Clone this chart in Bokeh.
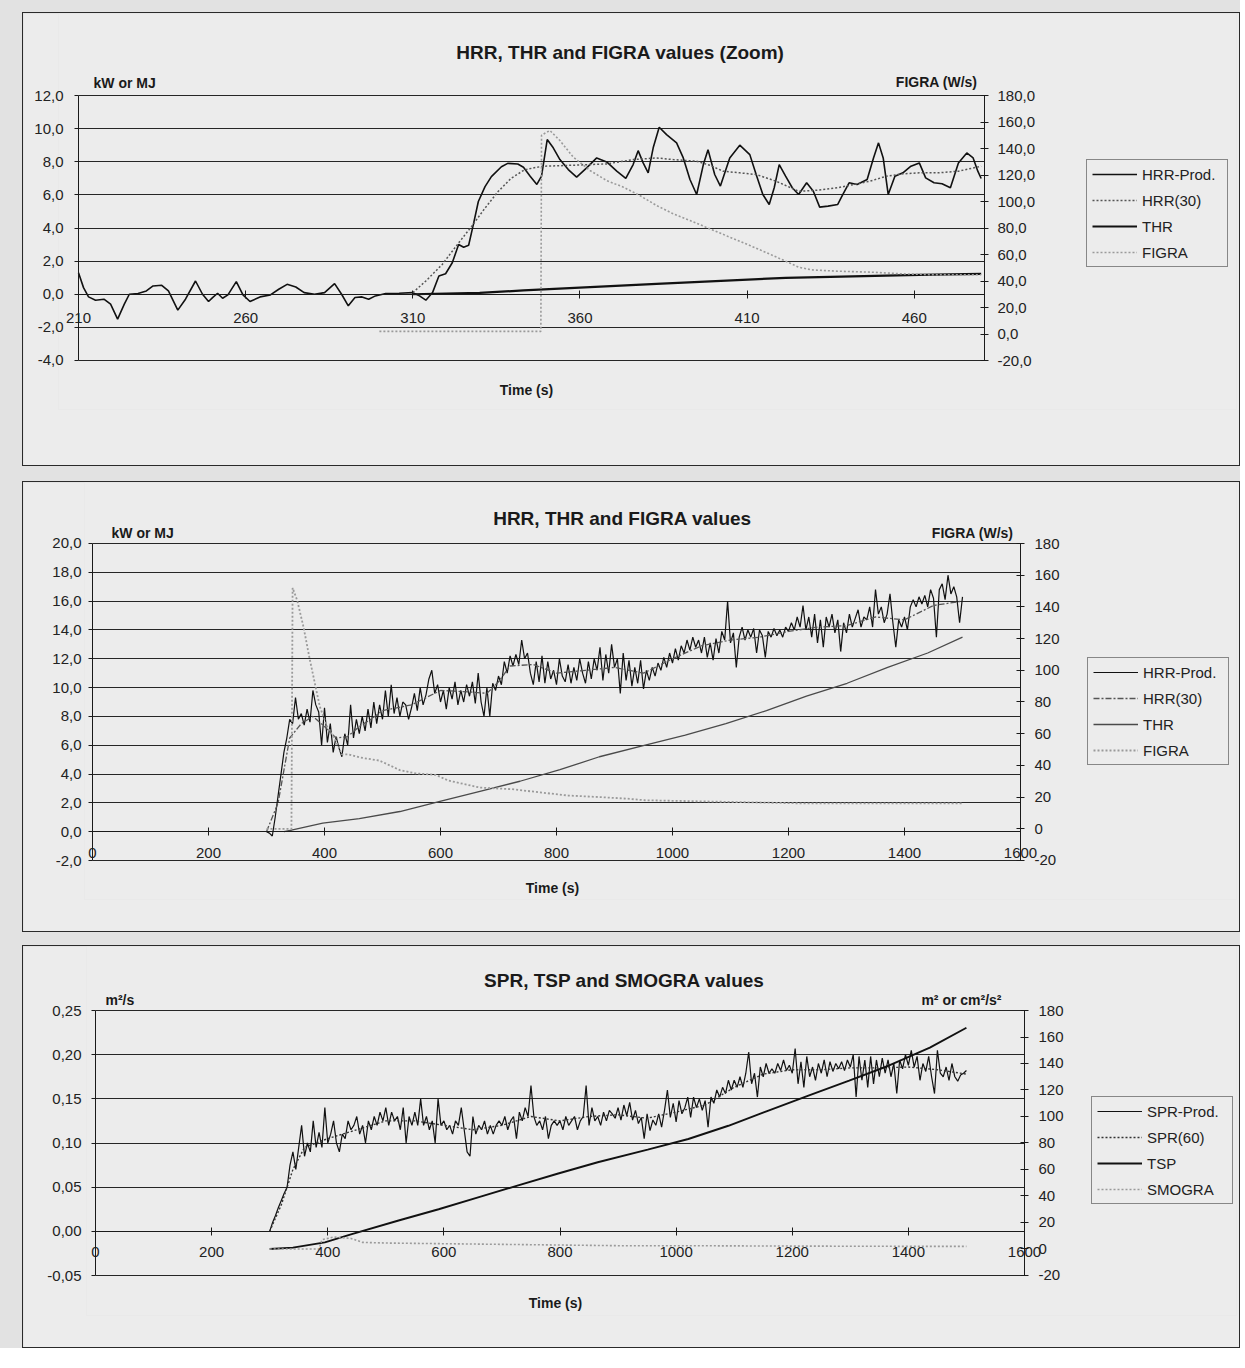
from bokeh.plotting import figure
from bokeh.models import (Range1d, LinearAxis, FixedTicker, Label, Legend, LegendItem,
                          CustomJSTickFormatter)
from bokeh.layouts import column
from bokeh.embed import file_html
from bokeh.resources import INLINE

FONT = "Liberation Sans"
BG = "#ececec"
PAGE_BG = "#e2e2e2"
INK = "#1a1a1a"
GRID = "#262626"

# ---------------- Chart 1: HRR, THR and FIGRA values (Zoom) ----------------
z_x_ticks = [210, 260, 310, 360, 410, 460]
z_left_ticks = [-4, -2, 0, 2, 4, 6, 8, 10, 12]
z_right_ticks = [-20, 0, 20, 40, 60, 80, 100, 120, 140, 160, 180]

z_hrr_t = [210.0, 211.5, 213.0, 215.1, 217.6, 219.6, 221.7, 223.7, 225.2, 227.8,
           230.3, 232.3, 234.9, 236.9, 239.7, 242.0, 245.0, 247.1, 248.9, 250.1,
           251.6, 253.1, 254.7, 257.2, 259.2, 261.3, 264.3, 267.4, 269.9, 272.4,
           275.0, 277.5, 280.6, 283.6, 286.6, 288.7, 290.7, 292.7, 294.8, 296.8,
           298.8, 301.9, 305.9, 310.0, 312.0, 313.9, 315.9, 317.8, 319.8, 321.8,
           323.7, 325.2, 326.7, 328.1, 329.6, 331.6, 333.5, 336.5, 338.4, 341.4,
           343.1, 345.1, 347.1, 348.5, 350.2, 352.0, 354.0, 356.5, 359.0, 362.0,
           365.0, 368.0, 371.0, 373.7, 375.9, 377.4, 378.9, 380.4, 381.9, 383.7,
           385.9, 388.9, 390.9, 392.9, 394.9, 396.9, 398.3, 400.3, 402.0, 404.8,
           407.8, 410.8, 412.7, 414.7, 416.6, 418.1, 419.6, 421.5, 423.5, 425.4,
           427.8, 429.8, 431.7, 434.2, 437.1, 438.6, 440.5, 442.9, 445.9, 447.8,
           449.3, 450.7, 452.2, 454.2, 456.6, 459.0, 461.5, 463.4, 465.9, 468.3,
           470.8, 473.2, 475.7, 477.6, 479.0, 480.0]
z_hrr_v = [1.3, 0.4, -0.16, -0.36, -0.3, -0.6, -1.5, -0.6, 0.0, 0.04,
           0.2, 0.5, 0.54, 0.2, -0.96, -0.3, 0.8, 0.0, -0.44, -0.2,
           0.06, -0.24, -0.04, 0.76, -0.04, -0.44, -0.16, -0.04, 0.3, 0.6,
           0.44, 0.1, 0.0, 0.1, 0.64, 0.0, -0.7, -0.2, -0.16, -0.3,
           -0.1, 0.04, 0.06, 0.1, -0.1, -0.36, 0.1, 1.1, 1.24, 1.9,
           3.0, 2.84, 2.96, 4.2, 5.6, 6.5, 7.1, 7.7, 7.9, 7.86,
           7.67, 7.13, 6.63, 7.13, 9.34, 8.84, 8.13, 7.53, 7.07, 7.63,
           8.23, 7.99, 7.43, 6.99, 7.83, 8.67, 7.93, 7.33, 8.84, 10.08,
           9.64, 9.14, 8.23, 6.93, 6.02, 7.83, 8.73, 7.23, 6.53, 8.23,
           9.0, 8.43, 7.23, 6.02, 5.42, 6.43, 7.83, 7.13, 6.43, 6.02,
           6.73, 6.22, 5.26, 5.32, 5.42, 6.02, 6.73, 6.63, 6.93, 8.23,
           9.14, 8.23, 6.02, 7.13, 7.33, 7.73, 7.93, 7.03, 6.73, 6.67,
           6.43, 7.93, 8.53, 8.23, 7.43, 6.99]

z_hrr30_t = [310.0, 313.9, 318.8, 323.7, 327.6, 331.6, 335.5, 339.4, 343.3, 346.3,
             349.0, 358.0, 368.0, 375.9, 382.9, 387.9, 394.9, 398.8, 402.8, 407.8,
             412.7, 418.6, 425.4, 430.3, 437.1, 442.0, 446.8, 451.7, 456.6, 461.5,
             467.3, 473.2, 480.0]
z_hrr30_v = [0.1, 0.8, 1.8, 3.1, 4.1, 5.2, 6.2, 7.0, 7.5, 7.64,
             7.73, 7.79, 7.87, 8.13, 8.23, 8.13, 8.03, 7.79, 7.43, 7.33,
             7.23, 6.83, 6.22, 6.27, 6.43, 6.63, 6.83, 7.13, 7.27, 7.33,
             7.33, 7.43, 7.73]

z_thr_t = [310, 330, 343.1, 382.9, 421.5, 461.5, 480]
z_thr_v = [0.0, 0.08, 0.23, 0.63, 0.99, 1.17, 1.23]

z_figra_t = [300, 348.3, 348.5, 351.0, 354.0, 358.0, 363.0, 368.0, 373.0, 377.9, 382.9,
             387.9, 392.9, 398.8, 404.8, 410.8, 416.6, 421.5, 425.4, 429.3, 437.1, 446.8,
             456.6, 466.4, 480]
z_figra_v = [2, 2, 150, 153.6, 146.0, 133.4, 123.4, 115.8, 110.8, 104.5, 97.0,
             90.7, 85.7, 79.4, 73.1, 66.8, 60.5, 55.0, 50.4, 48.4, 47.4, 46.7,
             45.4, 44.7, 44.7]

# ---------------- Chart 2: HRR, THR and FIGRA values ----------------
x_ticks_full = [0, 200, 400, 600, 800, 1000, 1200, 1400, 1600]
h_left_ticks = [-2, 0, 2, 4, 6, 8, 10, 12, 14, 16, 18, 20]
h_right_ticks = [-20, 0, 20, 40, 60, 80, 100, 120, 140, 160, 180]

h_start, h_step = 300, 5
h_hrr_v = [
    0.0, -0.1, -0.3, 1.0, 2.5, 4.0, 5.5, 6.5, 7.8, 7.5,
    9.3, 7.8, 8.2, 7.4, 8.5, 7.6, 9.8, 8.8, 8.3, 6.0,
    8.6, 6.2, 7.5, 5.5, 6.6, 5.8, 5.2, 6.8, 6.0, 8.8,
    6.5, 7.8, 6.8, 8.0, 7.0, 8.5, 7.2, 9.0, 7.5, 8.8,
    7.8, 9.8, 8.0, 10.2, 8.2, 9.3, 8.0, 9.0, 8.8, 7.8,
    8.6, 9.6, 8.4, 10.0, 8.8, 9.5, 10.6, 11.2, 9.6, 10.2,
    9.0, 9.8, 8.5, 10.0, 9.2, 10.4, 8.8, 9.8, 9.0, 10.2,
    9.4, 10.4, 8.9, 11.0, 9.0, 8.0, 10.0, 8.0, 10.3, 9.8,
    10.8, 10.2, 11.8, 11.0, 12.2, 11.5, 12.3, 11.6, 13.3, 12.0,
    12.4, 11.0, 10.2, 11.8, 10.4, 12.2, 10.3, 11.8, 10.6, 11.2,
    10.2, 12.0, 10.8, 10.4, 11.6, 10.3, 11.4, 10.5, 12.0, 11.0,
    10.3, 11.8, 10.6, 12.0, 11.2, 12.8, 10.5, 12.3, 11.0, 13.0,
    11.4, 12.0, 9.6, 12.4, 10.5, 11.9, 10.1, 11.4, 10.3, 11.9,
    9.9, 11.2, 10.5, 11.4, 10.8, 11.7, 11.2, 12.1, 11.4, 12.4,
    11.7, 12.7, 11.9, 12.9, 12.4, 13.3, 12.6, 13.5, 12.8, 13.3,
    12.4, 13.5, 12.1, 13.1, 11.9, 13.4, 12.4, 13.9, 13.3, 16.0,
    13.1, 13.8, 11.4, 13.5, 14.2, 13.3, 14.0, 13.5, 14.1, 12.4,
    14.0, 13.6, 12.1, 13.9, 13.5, 14.1, 13.6, 14.0, 13.5, 14.2,
    13.9, 14.5, 14.0, 14.9, 14.2, 15.7, 14.0, 14.9, 13.5, 15.1,
    13.1, 14.7, 12.8, 14.9, 14.2, 15.1, 13.8, 14.7, 12.5, 14.5,
    13.8, 15.1, 14.2, 14.8, 15.4, 14.2, 14.9, 14.7, 15.6, 14.2,
    16.8, 15.1, 15.6, 14.5, 15.1, 16.5, 14.5, 12.8, 14.7, 14.2,
    14.9, 14.0, 15.6, 16.1, 15.6, 16.3, 15.8, 16.4, 15.6, 16.8,
    16.2, 13.5, 16.8, 17.2, 16.1, 17.8, 16.5, 17.0, 16.3, 14.5,
    16.3]

h_hrr30_t = [300, 320, 340, 360, 380, 400, 420, 440, 460, 480, 500, 550, 600, 650, 680, 700,
             720, 760, 800, 850, 900, 950, 1000, 1050, 1100, 1150, 1200, 1250, 1300, 1350,
             1400, 1450, 1500]
h_hrr30_v = [0.0, 2.0, 6.5, 7.5, 8.0, 7.3, 6.5, 6.6, 7.3, 7.8, 8.4, 8.8, 9.8, 9.7, 9.6, 10.4,
             11.5, 11.6, 11.0, 11.2, 11.4, 11.0, 12.0, 12.9, 13.3, 13.5, 13.9, 14.2, 14.3, 14.9,
             14.7, 15.7, 16.0]

h_thr_t = [330, 343, 397, 460, 530, 599, 668, 737, 806, 874, 953, 1022, 1092, 1162, 1231,
           1301, 1371, 1440, 1500]
h_thr_v = [0.0, 0.1, 0.6, 0.9, 1.4, 2.1, 2.8, 3.5, 4.3, 5.2, 6.0, 6.7, 7.5, 8.4, 9.4,
           10.3, 11.4, 12.4, 13.5]

h_figra_t = [300, 343, 345, 353, 364, 374, 385, 392, 405, 419, 430, 440, 461, 495, 530, 557,
             592, 613, 668, 723, 771, 820, 875, 922, 953, 1092, 1231, 1371, 1500]
h_figra_v = [0, 0, 152, 144, 127, 108, 89, 77, 64, 56, 47, 47, 45, 43, 37, 35,
             34, 30.5, 26, 25, 23, 21, 20, 19, 18, 17, 16, 16, 16]

# ---------------- Chart 3: SPR, TSP and SMOGRA values ----------------
s_left_ticks = [-0.05, 0.0, 0.05, 0.10, 0.15, 0.20, 0.25]
s_right_ticks = [-20, 0, 20, 40, 60, 80, 100, 120, 140, 160, 180]

s_start, s_step = 300, 5
s_spr_v = [
    0.0, 0.01, 0.018, 0.027, 0.035, 0.043, 0.05, 0.075, 0.09, 0.07,
    0.095, 0.12, 0.085, 0.10, 0.09, 0.125, 0.095, 0.112, 0.095, 0.14,
    0.10, 0.11, 0.125, 0.10, 0.09, 0.11, 0.105, 0.125, 0.115, 0.12,
    0.13, 0.11, 0.12, 0.10, 0.125, 0.115, 0.13, 0.12, 0.135, 0.125,
    0.14, 0.12, 0.135, 0.125, 0.13, 0.115, 0.14, 0.10, 0.13, 0.12,
    0.135, 0.12, 0.15, 0.12, 0.13, 0.115, 0.125, 0.10, 0.15, 0.12,
    0.125, 0.115, 0.12, 0.11, 0.125, 0.12, 0.14, 0.115, 0.09, 0.085,
    0.13, 0.11, 0.12, 0.115, 0.125, 0.11, 0.12, 0.11, 0.12, 0.125,
    0.12, 0.13, 0.115, 0.125, 0.13, 0.105, 0.135, 0.125, 0.14, 0.13,
    0.165, 0.13, 0.12, 0.125, 0.115, 0.13, 0.105, 0.12, 0.125, 0.12,
    0.125, 0.115, 0.13, 0.12, 0.125, 0.13, 0.115, 0.125, 0.13, 0.165,
    0.12, 0.14, 0.125, 0.13, 0.12, 0.135, 0.125, 0.137, 0.133, 0.128,
    0.14, 0.126, 0.143, 0.131, 0.146, 0.126, 0.137, 0.122, 0.129, 0.105,
    0.133, 0.114, 0.126, 0.12, 0.133, 0.118, 0.137, 0.16, 0.129, 0.145,
    0.124, 0.148, 0.133, 0.14, 0.152, 0.129, 0.152, 0.14, 0.15, 0.137,
    0.148, 0.118, 0.152, 0.145, 0.16, 0.152, 0.163, 0.156, 0.171, 0.16,
    0.171, 0.163, 0.175, 0.163, 0.179, 0.203, 0.167, 0.179, 0.152, 0.186,
    0.175, 0.19, 0.179, 0.184, 0.179, 0.19, 0.182, 0.194, 0.182, 0.188,
    0.179, 0.207, 0.167, 0.192, 0.163, 0.198, 0.175, 0.186, 0.171, 0.19,
    0.179, 0.194, 0.175, 0.192, 0.181, 0.19, 0.184, 0.192, 0.182, 0.194,
    0.186, 0.2, 0.152, 0.198, 0.171, 0.194, 0.163, 0.198, 0.167, 0.194,
    0.175, 0.196, 0.179, 0.194, 0.175, 0.19, 0.156, 0.194, 0.184, 0.2,
    0.188, 0.205, 0.186, 0.198, 0.171, 0.19, 0.181, 0.198, 0.175, 0.156,
    0.205, 0.179, 0.175, 0.186, 0.171, 0.19, 0.175, 0.17, 0.177, 0.179,
    0.182]

s_spr60_t = [300, 320, 340, 360, 400, 450, 500, 550, 600, 650, 700, 750, 800, 850, 900, 950,
             1000, 1050, 1100, 1150, 1200, 1250, 1300, 1350, 1400, 1450, 1500]
s_spr60_v = [0.0, 0.03, 0.07, 0.095, 0.105, 0.115, 0.125, 0.125, 0.12, 0.115, 0.12, 0.13,
             0.125, 0.13, 0.132, 0.128, 0.135, 0.143, 0.163, 0.178, 0.183, 0.183, 0.185,
             0.185, 0.186, 0.183, 0.178]

s_tsp_t = [300, 340, 395, 440, 522, 591, 659, 728, 797, 865, 951, 1021, 1090, 1159, 1229,
           1298, 1367, 1437, 1500]
s_tsp_v = [0, 1, 5, 11, 21.5, 30, 39, 48, 57, 65.5, 75, 83, 93, 104.5, 116,
           127, 138.5, 152, 167]

s_smogra_t = [300, 385, 390, 410, 440, 460, 500, 600, 700, 800, 900, 1000, 1200, 1400, 1500]
s_smogra_v = [0, 0, 7, 9, 8, 5, 4.5, 4, 3.5, 3, 2.5, 2.5, 2.2, 2, 2]

FMT0 = "return tick.toFixed(0);"
FMT1 = "return tick.toFixed(1).replace('.', ',');"
FMT2 = "return tick.toFixed(2).replace('.', ',');"
BLANK = "return '';"


def make_fig(width, height, xr, yl, yr, borders, margin):
    left, top, right, bottom = borders
    p = figure(width=width, height=height, x_range=Range1d(*xr), y_range=Range1d(*yl),
               output_backend="svg", toolbar_location=None,
               x_axis_location=None, y_axis_location=None,
               min_border_left=left, min_border_top=top,
               min_border_right=right, min_border_bottom=bottom)
    if "frame_align" in p.properties():
        p.frame_align = False
    p.title.visible = False
    p.extra_y_ranges = {"r": Range1d(*yr)}
    p.background_fill_color = BG
    p.border_fill_color = BG
    p.outline_line_color = None
    p.xgrid.grid_line_color = None
    p.styles = {"border": "1px solid #2a2a2a"}
    p.margin = margin
    return p


def style_axis(ax, tin, tout, standoff, size="15px"):
    ax.axis_line_color = INK
    ax.axis_line_width = 1
    ax.major_tick_line_color = INK
    ax.major_tick_in = tin
    ax.major_tick_out = tout
    ax.minor_tick_line_color = None
    ax.minor_tick_in = 0
    ax.minor_tick_out = 0
    ax.major_label_text_font = FONT
    ax.major_label_text_font_size = size
    ax.major_label_text_color = "#222222"
    ax.major_label_standoff = standoff


def add_axes(p, xt, lt, rt, lfmt, rfmt, xlim, ylim, rlim, lstand, rstand, xstand):
    # horizontal grid lines limited to the plotting area
    g = p.ygrid[0]
    g.ticker = FixedTicker(ticks=lt)
    g.grid_line_color = GRID
    g.grid_line_width = 1
    if "cross_bounds" in g.properties():
        g.cross_bounds = xlim
    else:
        g.grid_line_color = None
        p.segment(x0=[xlim[0]] * len(lt), x1=[xlim[1]] * len(lt), y0=lt, y1=lt,
                  line_color=GRID, line_width=1, level="underlay")

    # left tick labels (regular axis, labels only)
    la = LinearAxis(ticker=FixedTicker(ticks=lt), formatter=CustomJSTickFormatter(code=lfmt))
    style_axis(la, 0, 0, lstand)
    la.axis_line_color = None
    la.major_tick_line_color = None
    p.add_layout(la, "left")

    # left axis line + ticks, at the first x value
    lb = LinearAxis(ticker=FixedTicker(ticks=lt), formatter=CustomJSTickFormatter(code=BLANK),
                    fixed_location=xlim[0], bounds=ylim)
    style_axis(lb, 0, 4, 0)
    p.add_layout(lb, "left")

    # horizontal time axis crossing at zero
    xa = LinearAxis(ticker=FixedTicker(ticks=xt), fixed_location=0, bounds=xlim)
    style_axis(xa, 4, 4, xstand)
    p.add_layout(xa, "below")

    # secondary (right) axis at the last x value
    ra = LinearAxis(y_range_name="r", ticker=FixedTicker(ticks=rt), fixed_location=xlim[1],
                    bounds=rlim, formatter=CustomJSTickFormatter(code=rfmt))
    style_axis(ra, 4, 4, rstand)
    p.add_layout(ra, "right")


def lab(p, x, y, text, size, align="left"):
    p.add_layout(Label(x=x, y=y, text=text, text_font=FONT, text_font_size=size,
                       text_font_style="bold", text_align=align,
                       text_baseline="middle", text_color=INK))


def legend(p, items, loc):
    lg = Legend(items=[LegendItem(label=l, renderers=[r]) for l, r in items], location=loc,
                label_text_font=FONT, label_text_font_size="15px", label_text_color="#222222",
                glyph_width=45, glyph_height=16, label_height=18, label_width=80, spacing=8,
                padding=5, margin=0, label_standoff=5, border_line_color="#222222",
                border_line_width=1, background_fill_color=BG, background_fill_alpha=1.0)
    p.add_layout(lg)


# ---- figure 1 (zoom)
p1 = make_fig(1218, 454, (204.018, 556.377), (-6.9585, 16.951), (-56.981, 241.887),
              (35, 0, 5, 58), (12, 0, 0, 22))
add_axes(p1, z_x_ticks, z_left_ticks, z_right_ticks, FMT1, FMT1, (210, 481), (-4, 12),
         (-20, 180), -5, 9, 15)
r1a = p1.line(z_hrr_t, z_hrr_v, line_color="#111111", line_width=1.6)
r1b = p1.line(z_hrr30_t, z_hrr30_v, line_color="#555555", line_width=1.5, line_dash="2 2")
r1c = p1.line(z_thr_t, z_thr_v, line_color="#111111", line_width=2.2)
r1d = p1.line(z_figra_t, z_figra_v, y_range_name="r", line_color="#9a9a9a", line_width=1.6,
              line_dash="2 2")
lab(p1, 372.12, 14.596, "HRR, THR and FIGRA values (Zoom)", "19px", "center")
lab(p1, 214.49, 12.725, "kW or MJ", "14px")
lab(p1, 478.91, 12.785, "FIGRA (W/s)", "14px", "right")
lab(p1, 344.0, -5.751, "Time (s)", "14px", "center")
legend(p1, [("HRR-Prod.", r1a), ("HRR(30)", r1b), ("THR", r1c), ("FIGRA", r1d)], (1028, 142))

# ---- figure 2
h_hrr_t = [h_start + h_step * i for i in range(len(h_hrr_v))]
p2 = make_fig(1218, 451, (-13.793, 1972.41), (-4.7066, 24.2334), (-44.606, 218.486),
              (61, 0, 5, 34), (15, 0, 0, 22))
add_axes(p2, x_ticks_full, h_left_ticks, h_right_ticks, FMT1, FMT0, (0, 1600), (-2, 20),
         (-20, 180), 3, 10, 12)
r2c = p2.line(h_thr_t, h_thr_v, line_color="#4a4a4a", line_width=1.3)
r2a = p2.line(h_hrr_t, h_hrr_v, line_color="#111111", line_width=1.2)
r2b = p2.line(h_hrr30_t, h_hrr30_v, line_color="#555555", line_width=1.3, line_dash="6 2 2 2")
r2d = p2.line(h_figra_t, h_figra_v, y_range_name="r", line_color="#9a9a9a", line_width=1.8,
              line_dash="2 2")
lab(p2, 913.79, 21.735, "HRR, THR and FIGRA values", "19px", "center")
lab(p2, 32.76, 20.763, "kW or MJ", "14px")
lab(p2, 1587.9, 20.763, "FIGRA (W/s)", "14px", "right")
lab(p2, 793.1, -3.943, "Time (s)", "14px", "center")
legend(p2, [("HRR-Prod.", r2a), ("HRR(30)", r2b), ("THR", r2c), ("FIGRA", r2d)], (1003, 134))

# ---- figure 3
s_spr_t = [s_start + s_step * i for i in range(len(s_spr_v))]
p3 = make_fig(1218, 403, (-15.5005, 1965.12), (-0.095283, 0.322453), (-50.189, 228.302),
              (63, 0, 5, 34), (13, 0, 0, 22))
add_axes(p3, x_ticks_full, s_left_ticks, s_right_ticks, FMT2, FMT0, (0, 1600), (-0.05, 0.25),
         (-20, 180), 5, 10, 12)
r3a = p3.line(s_spr_t, s_spr_v, line_color="#111111", line_width=1.2)
r3b = p3.line(s_spr60_t, s_spr60_v, line_color="#333333", line_width=1.4, line_dash="2 2")
r3c = p3.line(s_tsp_t, s_tsp_v, y_range_name="r", line_color="#111111", line_width=1.9)
r3d = p3.line(s_smogra_t, s_smogra_v, y_range_name="r", line_color="#9a9a9a", line_width=1.6,
              line_dash="2 2")
lab(p3, 911.09, 0.283962, "SPR, TSP and SMOGRA values", "19px", "center")
lab(p3, 17.22, 0.261321, "m²/s", "14px")
lab(p3, 1560.4, 0.261321, "m² or cm²/s²", "14px", "right")
lab(p3, 792.25, -0.081698, "Time (s)", "14px", "center")
legend(p3, [("SPR-Prod.", r3a), ("SPR(60)", r3b), ("TSP", r3c), ("SMOGRA", r3d)], (1005, 111))

page = column(p1, p2, p3, styles={"background-color": PAGE_BG})
open("out.html", "w").write(file_html(page, INLINE))
